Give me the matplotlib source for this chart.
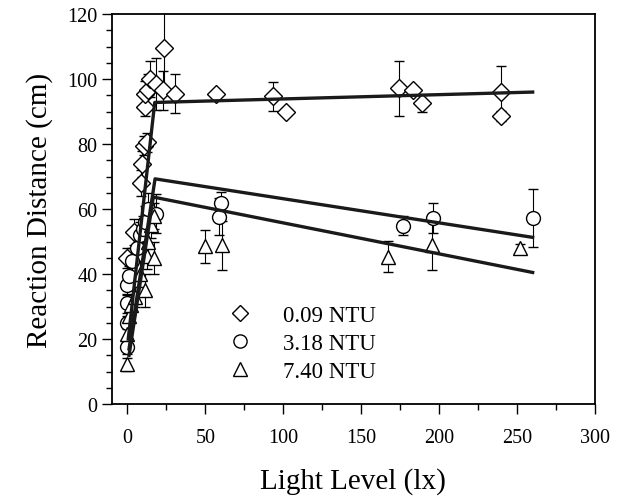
import matplotlib
matplotlib.use("Agg")
import matplotlib.pyplot as plt
from matplotlib.lines import Line2D
from matplotlib.ticker import MultipleLocator

plt.rcParams['font.family'] = ['Liberation Serif', 'DejaVu Serif']

## 0.09 NTU (diamonds)
x_009 = [0, 4, 9, 9.5, 10.5, 12.5, 11.5, 11.5, 13, 14.5, 18, 23, 23.3, 30.7,
         57, 93.3, 102, 174.5, 183, 189, 239.4, 239.4]
y_009 = [45, 53, 68, 74, 79.5, 80.5, 91.5, 95.5, 96.5, 100, 98.5, 96.5, 109.5, 95.5,
         95.5, 94.7, 90, 97.2, 96.7, 92.5, 96, 88.7]
e_009 = [3, 4, 4, 4, 3, 3, 3, 4, 5, 5.5, 8, 6, 12, 6,
         0, 4.5, 0, 8.5, 0, 2.5, 8, 1.5]

## 3.18 NTU (circles)
x_318 = [0, 0, 0, 0, 1, 3, 6, 8, 10, 11.5, 13, 18, 58.5, 60, 177, 196, 260]
y_318 = [17.5, 25, 31, 36.5, 39.5, 44, 48, 52, 54, 56, 60, 58.5, 57.7, 61.8, 54.9, 57.2, 57.2]
e_318 = [2, 2, 3, 3, 3, 4, 4, 4, 4, 5, 5, 6, 5.7, 3.6, 3, 4.6, 9]

## 7.40 NTU (triangles)
x_740 = [0, 0, 1, 2, 5, 11, 8, 12.5, 16.8, 13.5, 15, 17, 50, 60.5, 167, 195.5, 252]
y_740 = [12.3, 21.5, 27, 30.5, 33, 35, 40, 45.5, 45, 50, 55, 58, 48.5, 48.9, 45.4, 48.9, 47.9]
e_740 = [2, 3, 3, 3, 3, 5, 4, 4, 5, 5, 4, 4, 5, 7.5, 4.7, 7.5, 1.5]

## broken-stick fits
fit_x_009 = [0.5, 17.5, 260]
fit_y_009 = [20, 92.8, 96]
fit_x_318 = [1, 17.7, 260]
fit_y_318 = [17, 69.3, 51.3]
fit_x_740 = [1, 16.6, 260]
fit_y_740 = [15, 63.7, 40.5]

labels = ['0.09 NTU', '3.18 NTU', '7.40 NTU']

fig = plt.figure(figsize=(6.25, 5.02), dpi=100)
ax = fig.add_axes([0.179, 0.193, 0.773, 0.777])

mk = dict(mfc='white', mec='black', mew=1.0, ecolor='black', elinewidth=0.8,
          capsize=3.6, capthick=0.8, ls='none', zorder=3)
ax.errorbar(x_009, y_009, yerr=e_009, fmt='D', ms=9, **mk)
ax.errorbar(x_318, y_318, yerr=e_318, fmt='o', ms=10, **mk)
ax.errorbar(x_740, y_740, yerr=e_740, fmt='^', ms=10, **mk)

ax.plot(fit_x_009, fit_y_009, color='#1a1a1a', lw=2.4, zorder=4)
ax.plot(fit_x_318, fit_y_318, color='#1a1a1a', lw=2.4, zorder=4)
ax.plot(fit_x_740, fit_y_740, color='#1a1a1a', lw=2.4, zorder=4)

ax.set_xlim(-10, 300)
ax.set_ylim(0, 120)
ax.xaxis.set_major_locator(MultipleLocator(50))
ax.xaxis.set_minor_locator(MultipleLocator(25))
ax.yaxis.set_major_locator(MultipleLocator(20))
ax.yaxis.set_minor_locator(MultipleLocator(5))
ax.tick_params(which='major', direction='out', length=7, width=1, labelsize=14.5)
ax.tick_params(which='minor', direction='out', length=4, width=1)
ax.tick_params(axis='x', pad=10)
for s in ax.spines.values():
    s.set_linewidth(1.3)

ax.set_xlabel("Light Level (lx)", fontsize=21, labelpad=15)
ax.set_ylabel("Reaction Distance (cm)", fontsize=21, labelpad=10)

handles = [Line2D([], [], marker=m, ls='none', ms=s, mfc='white', mec='black', mew=1.0)
           for m, s in [('D', 8), ('o', 9.5), ('^', 9.5)]]
ax.legend(handles, labels, frameon=False, loc='upper left', bbox_to_anchor=(0.199, 0.278),
          fontsize=16.5, handletextpad=0.87, labelspacing=0.3, borderaxespad=0)

fig.savefig("out.png", dpi=100)
